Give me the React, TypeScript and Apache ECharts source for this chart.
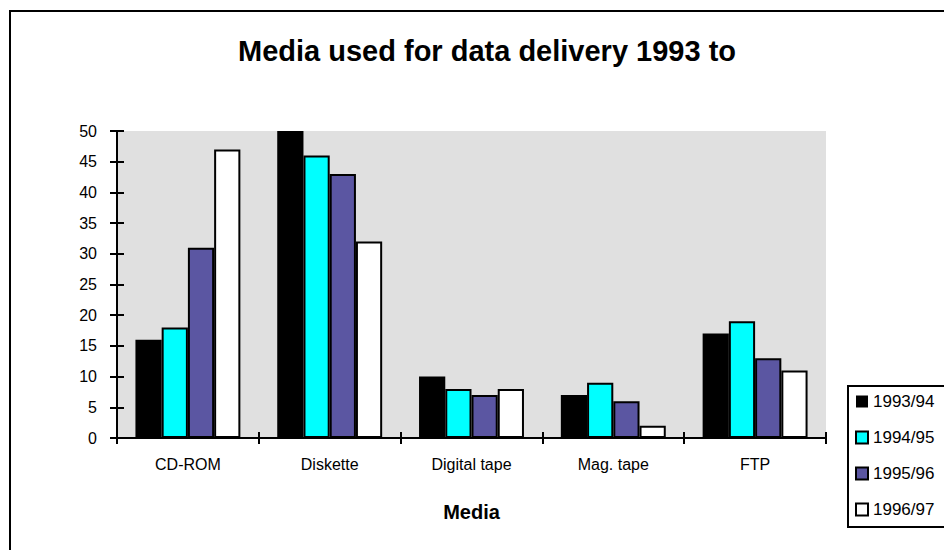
import React, { useEffect, useRef } from "react";
import * as echarts from "echarts";

const categories = ["CD-ROM", "Diskette", "Digital tape", "Mag. tape", "FTP"];
const seriesNames = ["1993/94", "1994/95", "1995/96", "1996/97"];
const v1993 = [16, 50, 10, 7, 17];
const v1994 = [18, 46, 8, 9, 19];
const v1995 = [31, 43, 7, 6, 13];
const v1996 = [47, 32, 8, 2, 11];
const seriesValues = [v1993, v1994, v1995, v1996];
const seriesColors = ["#000000", "#00FFFF", "#5B56A2", "#FFFFFF"];
const titleText = "Media used for data delivery 1993 to";
const xAxisName = "Media";

const FONT = "'Liberation Sans', Arial, Helvetica, sans-serif";

export default function App() {
  const ref = useRef<HTMLDivElement>(null);
  useEffect(() => {
    if (!ref.current) return;
    const chart = echarts.init(ref.current, undefined, { renderer: "svg" });
    const yCommon = {
      type: "value",
      min: 0,
      max: 50,
      interval: 5,
      splitLine: { show: false },
    };
    const option: any = {
      animation: false,
      backgroundColor: "#ffffff",
      textStyle: { fontFamily: FONT },
      grid: {
        left: 117,
        right: 118,
        top: 131,
        bottom: 112,
        show: true,
        backgroundColor: "#E0E0E0",
        borderWidth: 0,
      },
      legend: {
        orient: "vertical",
        left: 850,
        top: 388,
        itemGap: 19,
        itemWidth: 12,
        itemHeight: 12,
        itemTextGap: 6,
        icon: "rect",
        data: seriesNames,
        textStyle: { fontSize: 17, color: "#000", fontFamily: FONT },
      },
      xAxis: [
        {
          type: "category",
          data: categories,
          position: "bottom",
          axisLine: { lineStyle: { color: "#000", width: 2 } },
          axisTick: { show: true, length: 6, lineStyle: { color: "#000", width: 2 } },
          axisLabel: { fontSize: 16, color: "#000", margin: 18, fontFamily: FONT },
          name: xAxisName,
          nameLocation: "middle",
          nameGap: 64,
          nameTextStyle: { fontSize: 20, fontWeight: "bold", color: "#000", fontFamily: FONT },
        },
        {
          type: "category",
          data: categories,
          position: "bottom",
          offset: 0,
          axisLine: { show: false },
          axisTick: { show: true, inside: true, length: 6, lineStyle: { color: "#000", width: 2 } },
          axisLabel: { show: false },
        },
      ],
      yAxis: [
        {
          ...yCommon,
          position: "left",
          axisLine: { show: true, lineStyle: { color: "#000", width: 2 } },
          axisTick: { show: true, length: 7, lineStyle: { color: "#000", width: 2 } },
          axisLabel: { fontSize: 16, color: "#000", margin: 20, fontFamily: FONT },
        },
        {
          ...yCommon,
          position: "left",
          offset: 0,
          axisLine: { show: false },
          axisTick: { show: true, inside: true, length: 7, lineStyle: { color: "#000", width: 2 } },
          axisLabel: { show: false },
        },
      ],
      series: seriesNames.map((name, i) => ({
        name,
        type: "bar",
        xAxisIndex: 0,
        yAxisIndex: 0,
        data: seriesValues[i],
        barGap: "0%",
        barCategoryGap: "26%",
        itemStyle: {
          color: seriesColors[i],
          borderColor: "#000",
          borderWidth: i === 0 ? 0 : 2,
        },
      })),
      graphic: [
        {
          type: "rect",
          shape: { x: 10, y: 11, width: 1000, height: 600 },
          style: { fill: "none", stroke: "#000", lineWidth: 2 },
          silent: true,
        },
        {
          type: "rect",
          shape: { x: 848, y: 386, width: 110, height: 141 },
          style: { fill: "none", stroke: "#000", lineWidth: 2 },
          silent: true,
        },
        {
          type: "text",
          x: 487,
          y: 51,
          style: {
            text: titleText,
            align: "center",
            verticalAlign: "middle",
            fontSize: 29,
            fontWeight: "bold",
            fontFamily: FONT,
            fill: "#000",
          },
        },
      ],
    };
    chart.setOption(option);
    return () => chart.dispose();
  }, []);
  return (
    <div
      ref={ref}
      style={{ position: "fixed", left: 0, top: 0, width: 944, height: 550 }}
    />
  );
}
